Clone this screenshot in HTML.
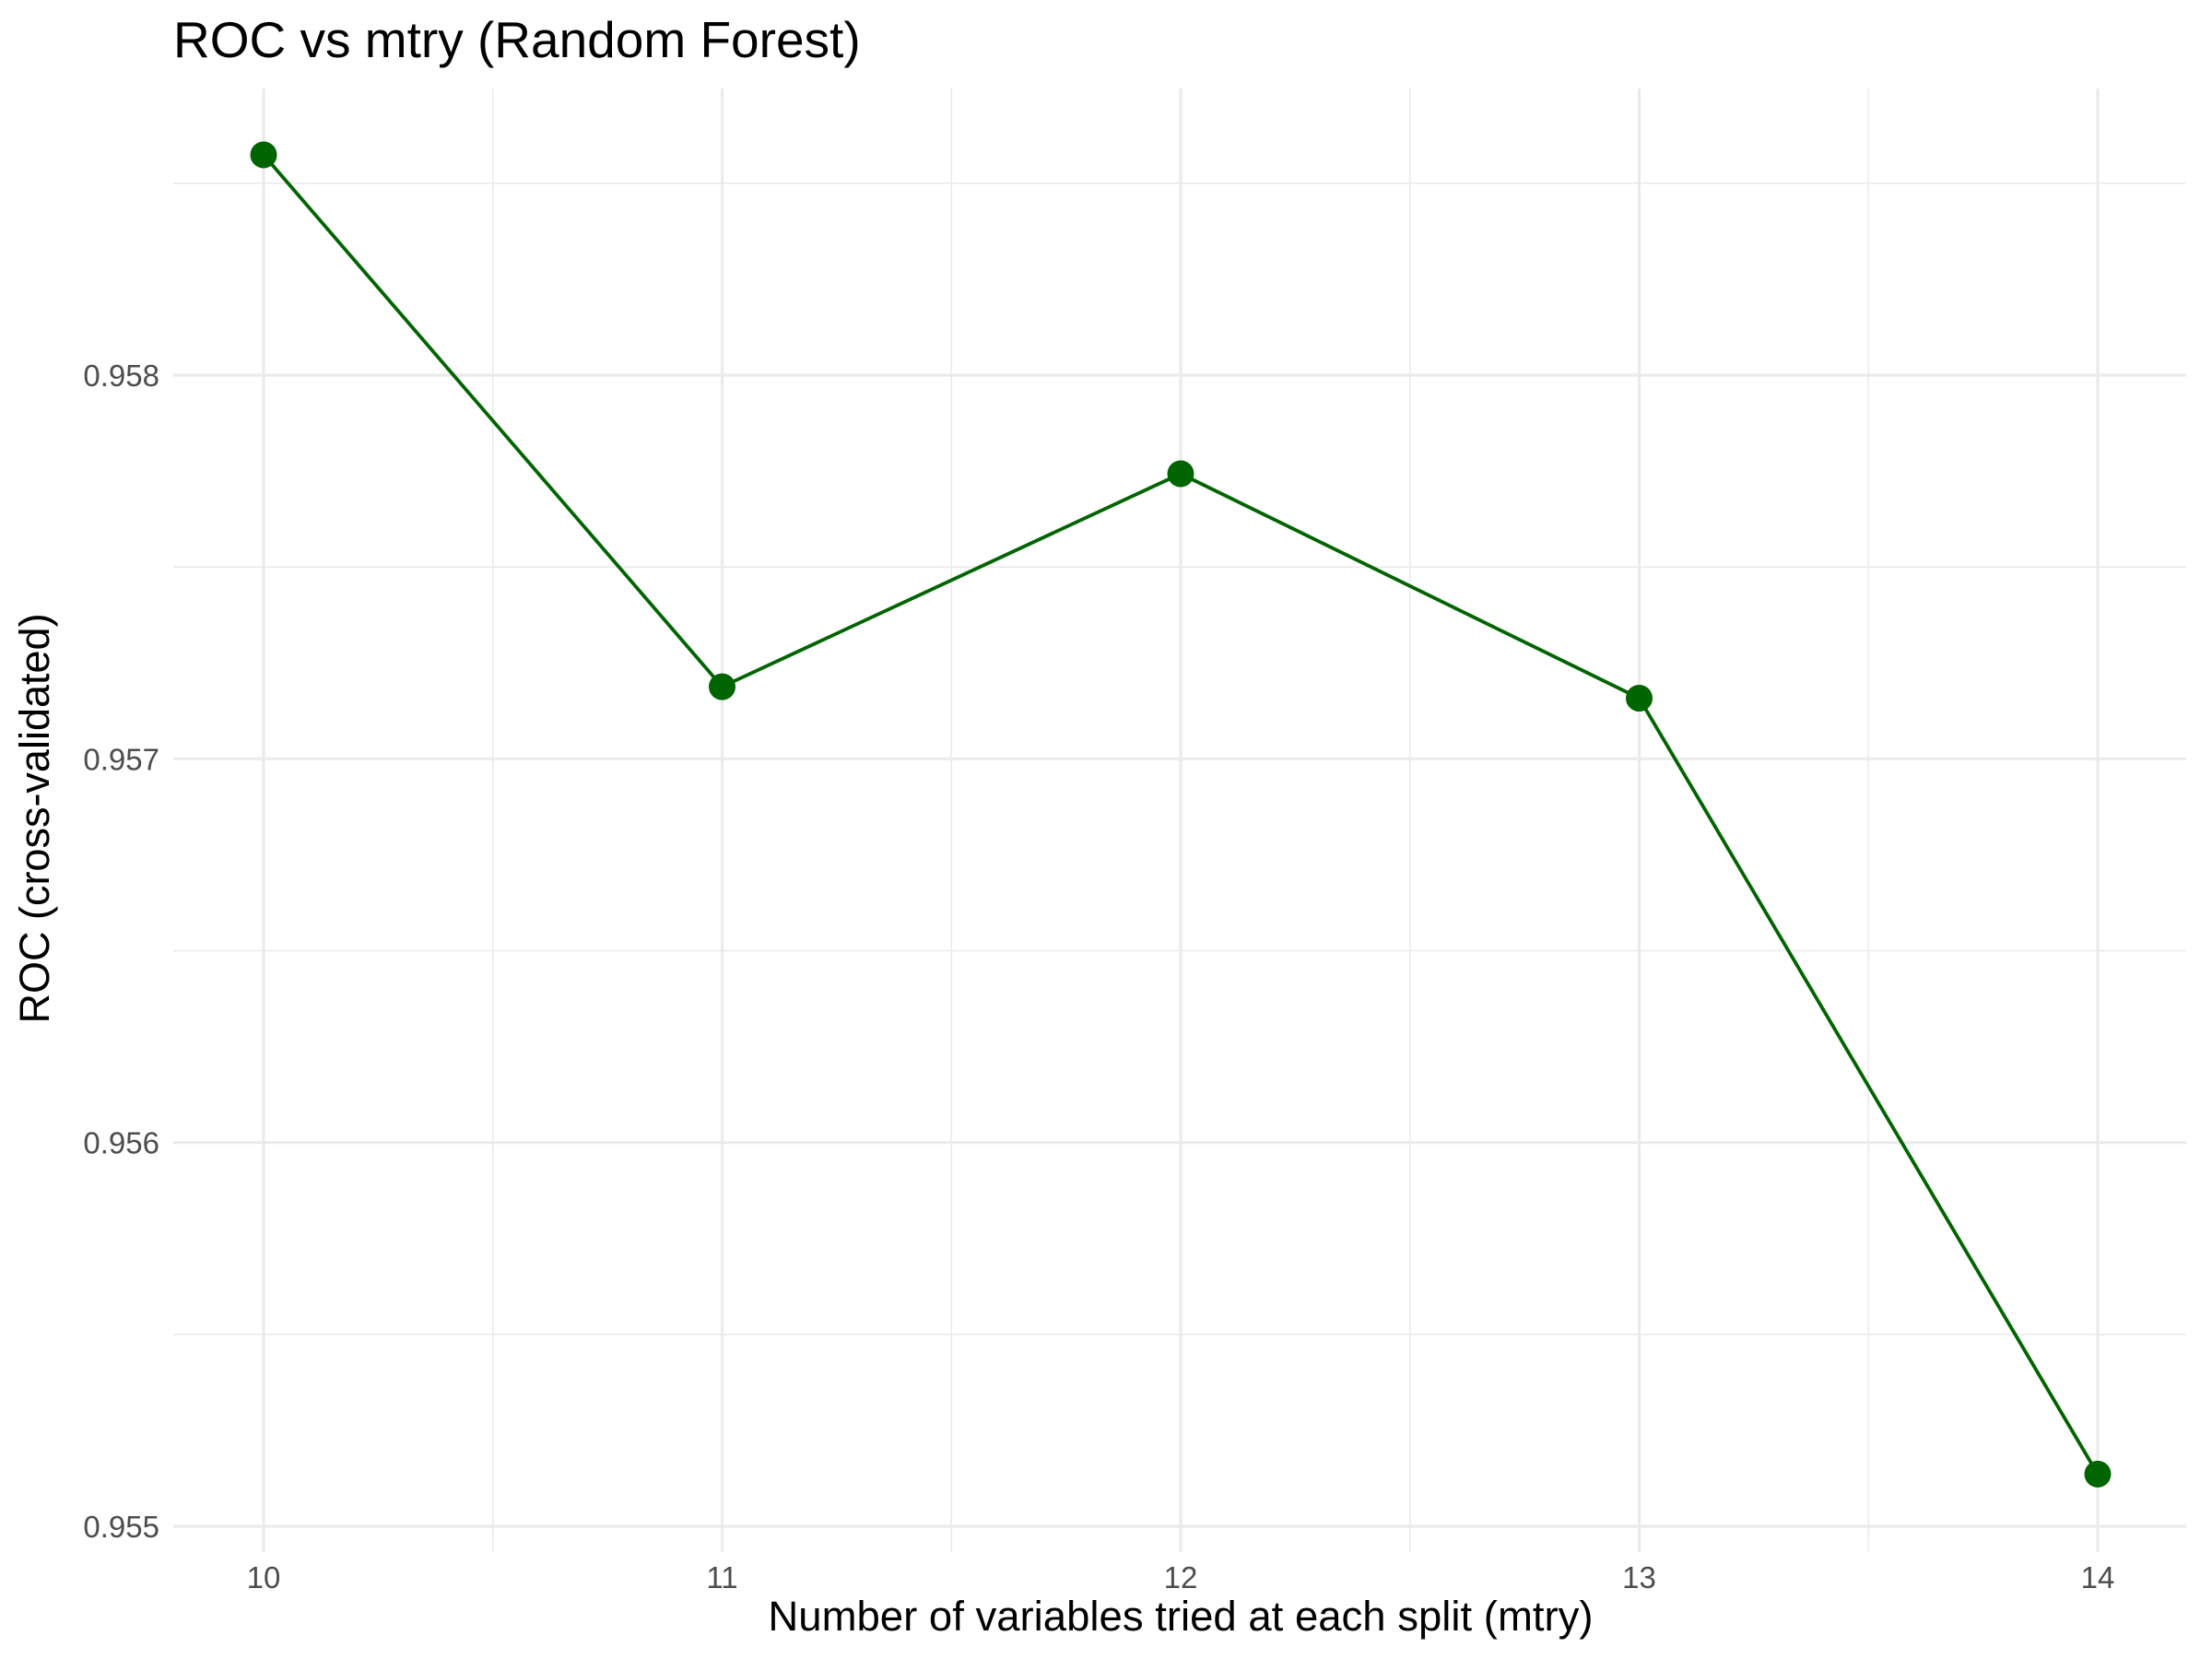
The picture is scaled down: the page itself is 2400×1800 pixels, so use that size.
<!DOCTYPE html>
<html><head><meta charset="utf-8"><style>
body{margin:0;background:#fff}
svg{display:block;font-family:"Liberation Sans",Arial,sans-serif}
</style></head><body>
<svg id="chart" width="2400" height="1800" viewBox="0 0 2400 1800">
<text x="188" y="62" font-size="55" fill="#000">ROC vs mtry (Random Forest)</text>
<g id="grid"></g>
<g id="ticks"></g>
<g id="series"></g>
<text x="1281" y="1769" font-size="45.5" fill="#000" text-anchor="middle">Number of variables tried at each split (mtry)</text>
<text transform="translate(53,888) rotate(-90)" font-size="45" fill="#000" text-anchor="middle">ROC (cross-validated)</text>
</svg>
<script>
const categories=[10,11,12,13,14];
const rocValues=[0.958574,0.957188,0.957743,0.957158,0.955136];
const yTicks=[0.955,0.956,0.957,0.958];
const yTickLabels=["0.955","0.956","0.957","0.958"];
const xTickLabels=["10","11","12","13","14"];
const NS="http://www.w3.org/2000/svg";
const L=188,R=2372,T=96,B=1684;
function xs(v){return 286+(v-10)*(2276-286)/4;}
function ys(v){return 407+(0.958-v)*(1656-407)/0.003;}
function mk(tag,attrs,parent){const e=document.createElementNS(NS,tag);for(const k in attrs)e.setAttribute(k,attrs[k]);parent.appendChild(e);return e;}
const grid=document.getElementById('grid'),ticks=document.getElementById('ticks'),series=document.getElementById('series');
for(let i=0;i<yTicks.length;i++){const m=yTicks[i]+0.0005;if(ys(m)>T){const g=mk('line',{x1:L,x2:R,y1:ys(m),y2:ys(m),stroke:'#ebebeb','stroke-width':1.6},grid);}}
for(let i=0;i<categories.length-1;i++){const m=categories[i]+0.5;const g=mk('line',{x1:xs(m),x2:xs(m),y1:T,y2:B,stroke:'#ebebeb','stroke-width':1.6},grid);}
yTicks.forEach((v,i)=>{const g=mk('line',{x1:L,x2:R,y1:ys(v),y2:ys(v),stroke:'#ebebeb','stroke-width':3.2},grid);
const t=mk('text',{x:173,y:ys(v)+12,'font-size':33,fill:'#4d4d4d','text-anchor':'end'},ticks);t.textContent=yTickLabels[i];});
categories.forEach((v,i)=>{const g=mk('line',{x1:xs(v),x2:xs(v),y1:T,y2:B,stroke:'#ebebeb','stroke-width':3.2},grid);
const t=mk('text',{x:xs(v),y:1723,'font-size':33,fill:'#4d4d4d','text-anchor':'middle'},ticks);t.textContent=xTickLabels[i];});
const pts=categories.map((c,i)=>xs(c)+','+ys(rocValues[i])).join(' ');
const pl=mk('polyline',{points:pts,fill:'none',stroke:'#006400','stroke-width':3.8},series);


categories.forEach((c,i)=>{const p=mk('circle',{cx:xs(c),cy:ys(rocValues[i]),r:14.5,fill:'#006400'},series);

});
</script>
</body></html>
